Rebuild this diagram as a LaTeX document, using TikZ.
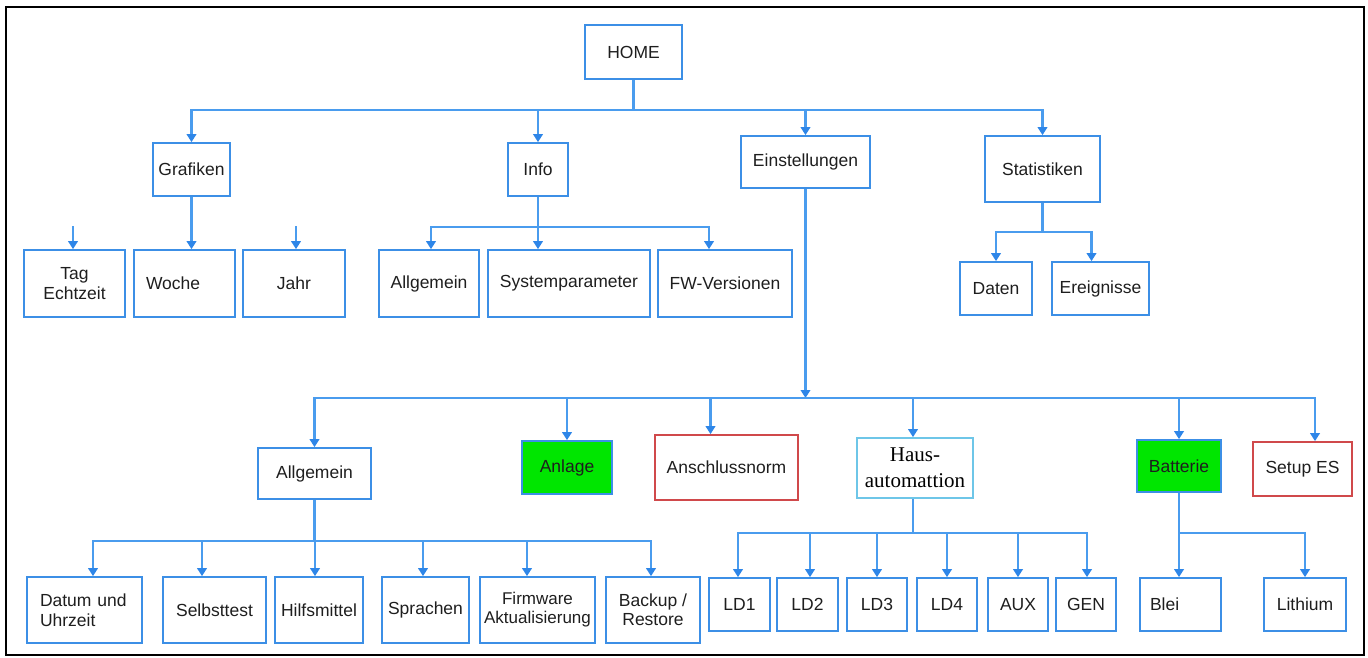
\documentclass[tikz,border=0pt]{standalone}
\usepackage{fontspec}
\setmainfont{Liberation Sans}
\newfontfamily\hausfont{Liberation Serif}
\usetikzlibrary{arrows.meta}
\definecolor{lineblue}{HTML}{4A9CEE}
\definecolor{tipblue}{HTML}{2E86E8}
\definecolor{boxblue}{HTML}{3C8FE6}
\definecolor{boxred}{HTML}{D0494B}
\definecolor{hausblue}{HTML}{6EC6E8}
\definecolor{boxgreen}{HTML}{00E600}
\definecolor{txt}{HTML}{1E1E1E}
\begin{document}
\begin{tikzpicture}[x=1pt,y=-1pt,
  box/.style={draw=boxblue, line width=1.7pt, rectangle, inner sep=2pt,
    font=\fontsize{17.5}{20}\selectfont, text=txt, align=center},
  redbox/.style={box, draw=boxred},
  greenbox/.style={box, fill=boxgreen},
  hausbox/.style={box, draw=hausblue, font=\hausfont\fontsize{21}{26}\selectfont, text=black},
  conn/.style={draw=lineblue, line width=2.1pt},
  arr/.style={conn, -{Triangle[width=9.5pt,length=8pt,color=tipblue]}},
]
\useasboundingbox (0,0) rectangle (1368,658);
\draw[line width=2.5pt, black] (6,7) rectangle (1364,655);

% level 0/1
\node[box, minimum width=97pt, minimum height=54pt] (home) at (633.5,52) {HOME};
\node[box, minimum width=77pt, minimum height=53pt] (graf) at (191.5,169.5) {Grafiken};
\node[box, minimum width=60pt, minimum height=53pt] (info) at (538,169.5) {Info};
\node[box, minimum width=129pt, minimum height=52pt] (einst) at (805.5,162) {Einstellungen};
\node[box, minimum width=115pt, minimum height=66pt] (stat) at (1042.5,169) {Statistiken};

% Grafiken children
\node[box, minimum width=101pt, minimum height=67pt] (tag) at (74.5,283.5) {Tag\\Echtzeit};
\node[box, minimum width=101pt, minimum height=67pt, text width=77pt, inner xsep=12pt, align=left] (woche) at (184.5,283.5) {Woche};
\node[box, minimum width=102pt, minimum height=67pt] (jahr) at (294,283.5) {Jahr};

% Info children
\node[box, minimum width=100pt, minimum height=67pt] (iallg) at (429,283.5) {Allgemein};
\node[box, minimum width=162pt, minimum height=67pt] (sysp) at (569,283.5) {Systemparameter};
\node[box, minimum width=134pt, minimum height=67pt] (fw) at (725,283.5) {FW-Versionen};

% Statistiken children
\node[box, minimum width=72pt, minimum height=53pt] (daten) at (996,288.5) {Daten};
\node[box, minimum width=97pt, minimum height=53pt] (ereig) at (1100.5,288.5) {Ereignisse};

% Einstellungen children
\node[box, minimum width=113pt, minimum height=51pt] (allg2) at (314.5,473.5) {Allgemein};
\node[greenbox, minimum width=90pt, minimum height=53pt] (anlage) at (567,467.5) {Anlage};
\node[redbox, minimum width=143pt, minimum height=65pt] (ansch) at (726.5,467.5) {Anschlussnorm};
\node[hausbox, minimum width=116pt, minimum height=60pt] (haus) at (915,468) {Haus-\\automattion};
\node[greenbox, minimum width=84pt, minimum height=52pt] (batt) at (1179,466) {Batterie};
\node[redbox, minimum width=99pt, minimum height=54pt] (setup) at (1302.5,469) {Setup ES};

% Allgemein children
\node[box, minimum width=115pt, minimum height=66pt, text width=89pt, inner xsep=13pt, align=left] (datum) at (84.5,610) {Datum und\\Uhrzeit};
\node[box, minimum width=103pt, minimum height=66pt] (selbst) at (214.5,610) {Selbsttest};
\node[box, minimum width=88pt, minimum height=66pt] (hilfs) at (319,610) {Hilfsmittel};
\node[box, minimum width=87pt, minimum height=66pt] (sprach) at (425.5,610) {Sprachen};
\node[box, minimum width=115pt, minimum height=66pt, font=\fontsize{17}{19}\selectfont] (firm) at (537.5,610) {Firmware\\Aktualisierung};
\node[box, minimum width=94pt, minimum height=66pt, font=\fontsize{17.5}{19}\selectfont] (backup) at (653,610) {Backup /\\Restore};

% Hausautomation children
\node[box, minimum width=61pt, minimum height=53pt] (ld1) at (739.5,604.5) {LD1};
\node[box, minimum width=61pt, minimum height=53pt] (ld2) at (807.5,604.5) {LD2};
\node[box, minimum width=60pt, minimum height=53pt] (ld3) at (877,604.5) {LD3};
\node[box, minimum width=60pt, minimum height=53pt] (ld4) at (947,604.5) {LD4};
\node[box, minimum width=60pt, minimum height=53pt] (aux) at (1018,604.5) {AUX};
\node[box, minimum width=60pt, minimum height=53pt] (gen) at (1086,604.5) {GEN};

% Batterie children
\node[box, minimum width=81pt, minimum height=53pt, text width=61pt, inner xsep=10pt, align=left] (blei) at (1180.5,604.5) {Blei};
\node[box, minimum width=82pt, minimum height=53pt] (lith) at (1305,604.5) {Lithium};

% connectors: HOME
\coordinate (b1) at (633.5,110);
\draw[conn] (home.south) -- (b1);
\draw[arr] (b1) -| (graf.north);
\draw[arr] (b1) -| (info.north);
\draw[arr] (b1) -| (einst.north);
\draw[arr] (b1) -| (stat.north);

% Grafiken
\coordinate (tagstub) at (73,226);
\coordinate (jahrstub) at (296,226);
\draw[arr] (graf.south) -- (graf.south |- woche.north);
\draw[arr] (tagstub) -- (tagstub |- tag.north);
\draw[arr] (jahrstub) -- (jahrstub |- jahr.north);

% Info
\coordinate (b3) at (538,227);
\draw[conn] (info.south) -- (b3);
\draw[arr] (b3) -| ([xshift=2pt]iallg.north);
\draw[arr] (b3) -- (b3 |- sysp.north);
\draw[arr] (b3) -| ([xshift=-16pt]fw.north);

% Statistiken
\coordinate (b4) at (1042.5,232);
\draw[conn] (stat.south) -- (b4);
\draw[arr] (b4) -| (daten.north);
\draw[arr] (b4) -| ([xshift=-9pt]ereig.north);

% Einstellungen
\coordinate (b2) at (805.5,398);
\draw[arr] (einst.south) -- (b2);
\draw[arr] (b2) -| (allg2.north);
\draw[arr] (b2) -| (anlage.north);
\draw[arr] (b2) -| ([xshift=-16pt]ansch.north);
\draw[arr] (b2) -| ([xshift=-2pt]haus.north);
\draw[arr] (b2) -| (batt.north);
\draw[arr] (b2) -| ([xshift=12.5pt]setup.north);

% Allgemein
\coordinate (b5) at (314.5,541);
\draw[conn] (allg2.south) -- (b5);
\draw[arr] (b5) -| ([xshift=8.5pt]datum.north);
\draw[arr] (b5) -| ([xshift=-12.5pt]selbst.north);
\draw[arr] (b5) -| ([xshift=-4pt]hilfs.north);
\draw[arr] (b5) -| ([xshift=-2.5pt]sprach.north);
\draw[arr] (b5) -| ([xshift=-10.5pt]firm.north);
\draw[arr] (b5) -| ([xshift=-2pt]backup.north);

% Hausautomation
\coordinate (b6) at (913,533);
\draw[conn] ([xshift=-2pt]haus.south) -- (b6);
\draw[arr] (b6) -| ([xshift=-1.5pt]ld1.north);
\draw[arr] (b6) -| ([xshift=2.5pt]ld2.north);
\draw[arr] (b6) -| (ld3.north);
\draw[arr] (b6) -| (ld4.north);
\draw[arr] (b6) -| (aux.north);
\draw[arr] (b6) -| ([xshift=1pt]gen.north);

% Batterie
\coordinate (b7) at (1179,533);
\draw[conn] (batt.south) -- (b7);
\draw[arr] (b7) -| ([xshift=-1.5pt]blei.north);
\draw[arr] (b7) -| (lith.north);
\end{tikzpicture}
\end{document}
